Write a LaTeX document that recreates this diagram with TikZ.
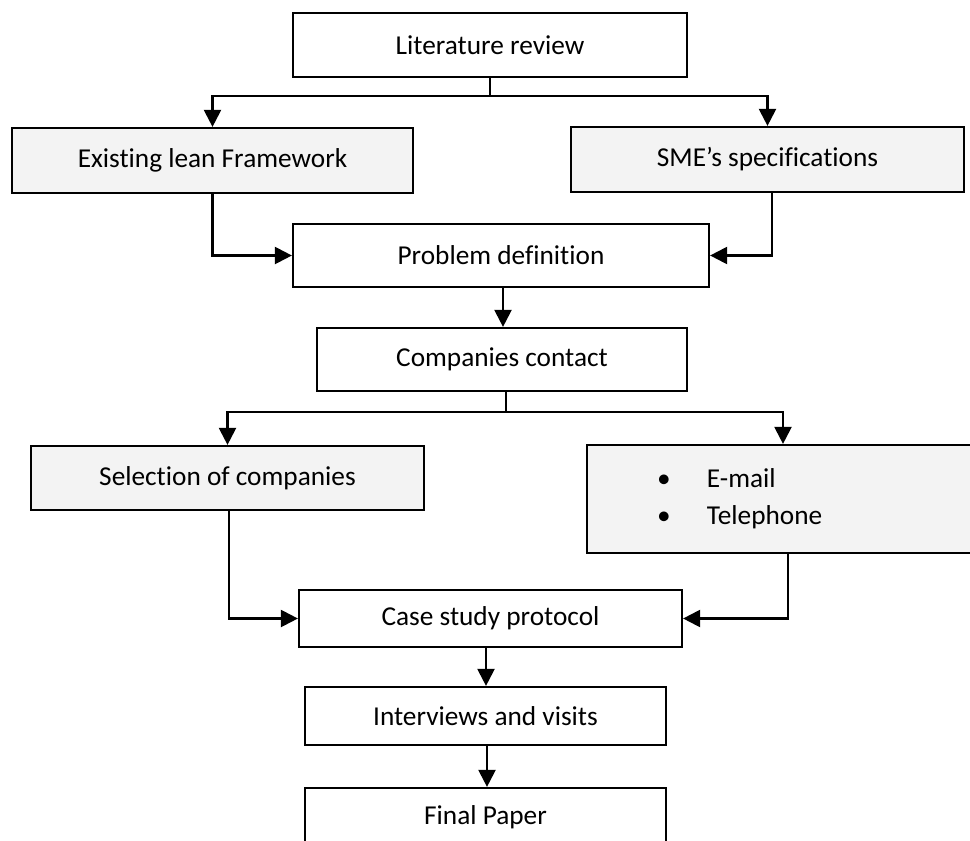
\documentclass[tikz,border=0pt]{standalone}
\usepackage{fontspec}
\setmainfont{Carlito}[Ligatures={NoCommon}]
\usetikzlibrary{arrows.meta}
\definecolor{boxgray}{HTML}{F3F3F3}
\tikzset{
  box/.style={draw=black, line width=2.2pt, inner sep=0pt, align=center,
    font=\fontsize{27.3}{32}\selectfont},
  graybox/.style={box, fill=boxgray},
  conn/.style={line width=2.2pt},
  arr/.style={conn, -{Triangle[length=17pt,width=17pt]}}
}
\begin{document}
\begin{tikzpicture}[x=1pt,y=-1pt]
\useasboundingbox (0,0) rectangle (970,841);
\clip (0,0) rectangle (970,841);
\fill[white] (0,0) rectangle (970,841);

\node[box, minimum width=394pt, minimum height=64pt] (lit) at (490,45) {Literature review};
\node[graybox, minimum width=401pt, minimum height=65pt] (exist) at (212.5,160.5) {Existing lean Framework};
\node[graybox, minimum width=393pt, minimum height=65pt] (sme) at (767.5,159.5) {SME’s specifications};
\node[box, minimum width=416pt, minimum height=63pt] (prob) at (501,255.5) {Problem definition};
\node[box, minimum width=370pt, minimum height=63pt] (comp) at (502,359.5) {Companies contact};
\node[graybox, minimum width=393pt, minimum height=64pt] (sel) at (227.5,478) {Selection of companies};
\node[graybox, minimum height=108pt, text width=246pt, inner xsep=70pt, align=left,
  font=\fontsize{27.3}{37}\selectfont] (email) at (780,499)
  {\makebox[50pt][l]{•}E-mail\\\makebox[50pt][l]{•}Telephone};
\node[box, minimum width=383pt, minimum height=57pt] (case) at (490.5,618.5) {Case study protocol};
\node[box, minimum width=361pt, minimum height=58pt] (inter) at (485.5,716) {Interviews and visits};
\node[box, minimum width=361pt, minimum height=58pt] (final) at (485.5,817) {Final Paper};

\coordinate (j1) at (490,96);
\coordinate (j2) at (506,412);

\draw[conn] (lit.south) -- (j1);
\draw[arr] (j1) -| (exist.north);
\draw[arr] (j1) -| (sme.north);
\draw[arr] (exist.south) |- (prob.west);
\draw[arr] ([xshift=4.5pt]sme.south) |- (prob.east);
\draw[arr] ([xshift=2pt]prob.south) -- ([xshift=2pt]prob.south |- comp.north);
\draw[conn] ([xshift=4pt]comp.south) -- (j2);
\draw[arr] (j2) -| (sel.north);
\draw[arr] (j2) -| ([xshift=3pt]email.north);
\draw[arr] ([xshift=1.5pt]sel.south) |- (case.west);
\draw[arr] ([xshift=8pt]email.south) |- (case.east);
\draw[arr] ([xshift=-4.5pt]case.south) -- ([xshift=-4.5pt]case.south |- inter.north);
\draw[arr] ([xshift=1.5pt]inter.south) -- ([xshift=1.5pt]inter.south |- final.north);
\end{tikzpicture}
\end{document}
